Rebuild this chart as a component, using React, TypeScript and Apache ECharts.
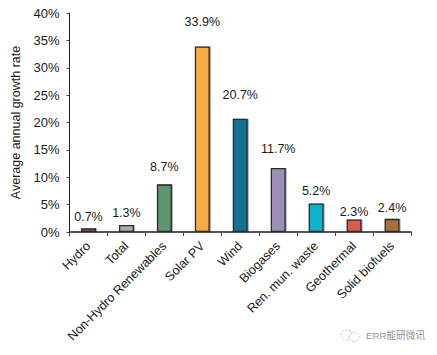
import React, { useEffect, useRef } from "react";
import * as echarts from "echarts";

const categories = ["Hydro", "Total", "Non-Hydro Renewables", "Solar PV", "Wind", "Biogases", "Ren. mun. waste", "Geothermal", "Solid biofuels"];
const values = [0.7, 1.3, 8.7, 33.9, 20.7, 11.7, 5.2, 2.3, 2.4];
const colors = ["#8a4a78", "#a9a9ae", "#5f9672", "#f8ab44", "#13708f", "#9c90b6", "#0db2cb", "#d95b52", "#ab7038"];
const labelGaps = [5, 5, 11, 18, 17, 12, 6, 1, 4];

export default function App() {
  const ref = useRef<HTMLDivElement>(null);
  useEffect(() => {
    const chart = echarts.init(ref.current!, null, { renderer: "svg" });
    const font = "'Liberation Sans', Arial, sans-serif";
    chart.setOption({
      animation: false,
      backgroundColor: "#fff",
      textStyle: { fontFamily: font },
      grid: { left: 69.5, right: 26, top: 13, bottom: 123 },
      xAxis: {
        type: "category",
        data: categories,
        axisLine: { lineStyle: { color: "#222", width: 1.5 } },
        axisTick: { show: true, length: 4, lineStyle: { color: "#444" } },
        axisLabel: { rotate: 45, interval: 0, margin: 12, fontSize: 12.6, color: "#1a1a1a", fontFamily: font },
      },
      yAxis: {
        type: "value",
        min: 0,
        max: 40,
        interval: 5,
        name: "Average annual growth rate",
        nameLocation: "middle",
        nameGap: 44,
        nameTextStyle: { fontSize: 12.5, color: "#1a1a1a", fontFamily: font },
        splitLine: { show: false },
        axisLine: { show: true, lineStyle: { color: "#222", width: 1 } },
        axisTick: { show: true, length: 3, lineStyle: { color: "#444" } },
        axisLabel: { formatter: "{value}%", margin: 10, fontSize: 13, color: "#1a1a1a", fontFamily: font },
      },
      series: [
        {
          type: "bar",
          barWidth: 15,
          data: values.map((v, i) => ({
            value: v,
            itemStyle: {
              color: colors[i],
              borderColor: "#2a2a2a",
              borderWidth: 1.3,
              shadowColor: "rgba(0,0,0,0.35)",
              shadowOffsetX: 1,
              shadowOffsetY: 0,
              shadowBlur: 1,
            },
            label: {
              show: true,
              position: "top",
              distance: labelGaps[i],
              formatter: v.toFixed(1) + "%",
              fontSize: 12.5,
              color: "#1a1a1a",
              fontFamily: font,
            },
          })),
        },
      ],
      graphic: [
        { type: "ellipse", shape: { cx: 347, cy: 335, rx: 6, ry: 5 }, style: { fill: "none", stroke: "#c4c4c4", lineWidth: 1, lineDash: [2, 1.5] } },
        { type: "ellipse", shape: { cx: 354, cy: 337, rx: 5, ry: 4.5 }, style: { fill: "#fff", stroke: "#c4c4c4", lineWidth: 1, lineDash: [2, 1.5] } },
        { type: "text", x: 366, y: 331, style: { text: "ERR能研微讯", fontSize: 9.7, fill: "#949494", fontFamily: "'Liberation Sans', 'Noto Sans CJK SC', sans-serif" } },
      ],
    });
    return () => chart.dispose();
  }, []);
  return <div ref={ref} style={{ width: 437, height: 355, position: "fixed", left: 0, top: 0 }} />;
}
